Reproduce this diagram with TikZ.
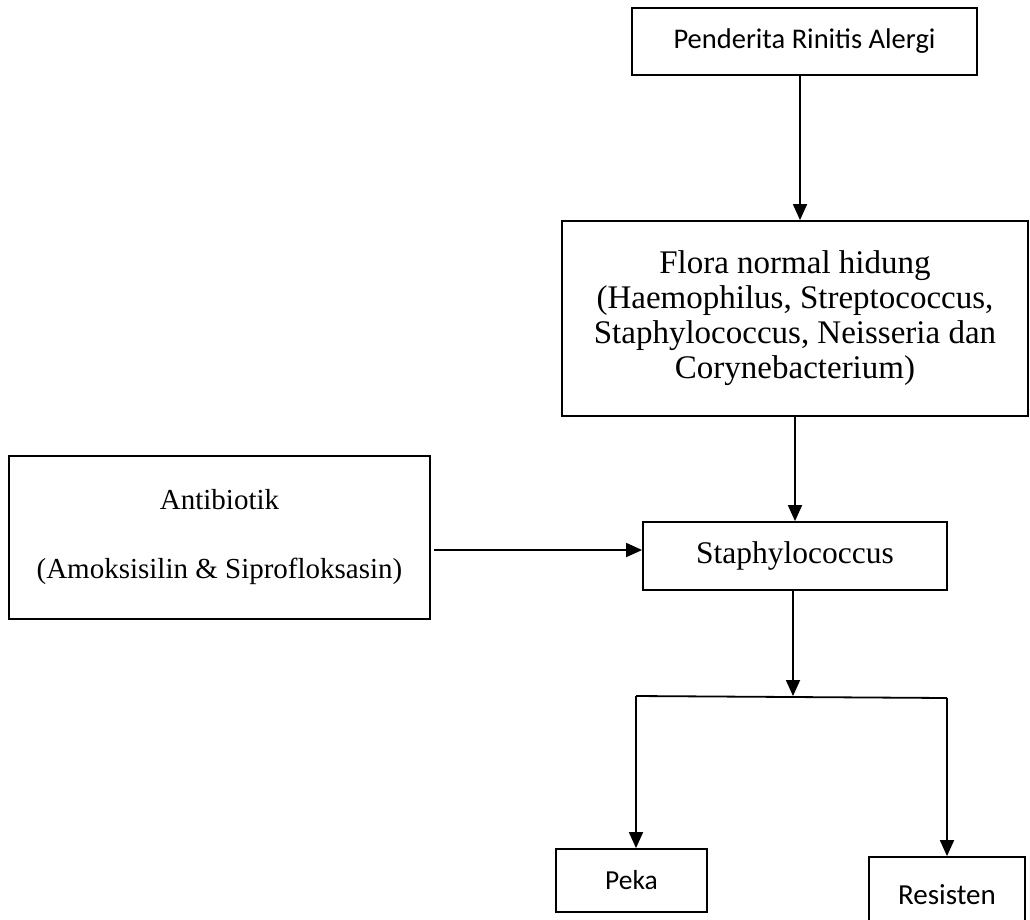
\documentclass[tikz,border=0pt]{standalone}
\usepackage{fontspec}
\setmainfont{Liberation Serif}
\newfontfamily\calfont{Carlito}
\usetikzlibrary{arrows.meta}
\begin{document}
\begin{tikzpicture}[x=1pt,y=-1pt,
  box/.style={draw,line width=1.8pt,inner sep=0pt,align=center},
  arr/.style={line width=1.8pt,-{Triangle[length=16pt,width=14pt]}},
  conn/.style={line width=1.8pt}]
\useasboundingbox (0,0) rectangle (1030,919);
\clip (0,0) rectangle (1030,919);
\fill[white] (0,0) rectangle (1030,919);

\node[box,minimum width=345pt,minimum height=67pt,font=\calfont\fontsize{28.5}{34}\selectfont] (pen) at (804.5,41.5) {Penderita Rinitis Alergi};

\node[box,minimum width=466pt,minimum height=195pt,font=\fontsize{33}{35}\selectfont] (flora) at (795,318.5)
  {Flora normal hidung\\(Haemophilus, Streptococcus,\\Staphylococcus, Neisseria dan\\Corynebacterium)};

\node[box,minimum width=304pt,minimum height=68pt,font=\fontsize{31.5}{36}\selectfont] (staph) at (795,556) {Staphylococcus};

\node[box,minimum width=421pt,minimum height=163pt,font=\fontsize{29}{34}\selectfont] (anti) at (219.5,537.5)
  {Antibiotik\\[35pt](Amoksisilin \& Siprofloksasin)};

\node[box,minimum width=151pt,minimum height=63pt,font=\calfont\fontsize{27.5}{33}\selectfont] (peka) at (631.5,880.5) {Peka};

\node[box,minimum width=156pt,minimum height=76pt,font=\calfont\fontsize{29}{34}\selectfont] (res) at (947,895) {Resisten};

\coordinate (ay) at (0,550);
\coordinate (sl) at (636,696);
\coordinate (sr) at (947,698);

\draw[arr] ([xshift=-4.5pt]pen.south) -- ([xshift=5pt]flora.north);
\draw[arr] (flora.south) -- (staph.north);
\draw[arr] ([xshift=3pt]anti.east |- ay) -- (staph.west |- ay);
\draw[arr] ([xshift=-2pt]staph.south) -- ([xshift=-2pt]staph.south |- sl);
\draw[conn] (sl) -- (sr);
\draw[arr] (sl) -- (sl |- peka.north);
\draw[arr] (sr) -- (sr |- res.north);
\end{tikzpicture}
\end{document}
